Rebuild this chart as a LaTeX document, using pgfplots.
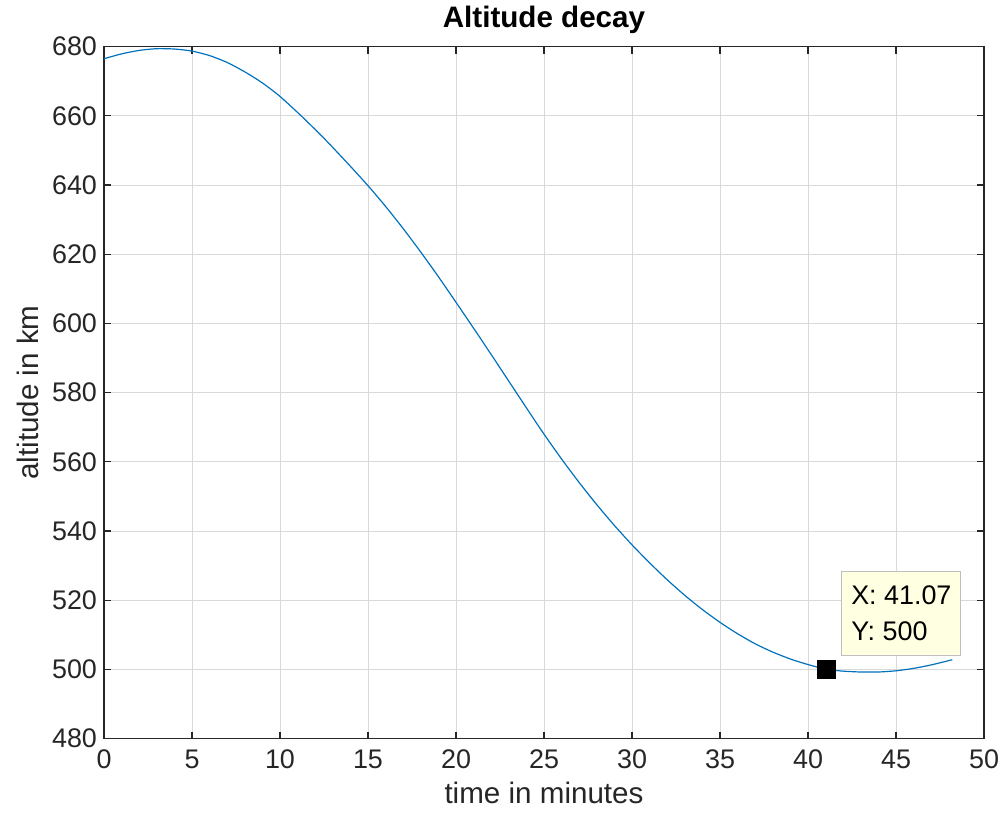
\documentclass[border=0pt]{standalone}
\usepackage{fontspec}
\setmainfont{Liberation Sans}
\usepackage{pgfplots}
\pgfplotsset{compat=1.18}
\definecolor{mlblue}{RGB}{0,114,189}
\definecolor{axgray}{RGB}{38,38,38}
\definecolor{tipfill}{RGB}{255,255,225}

\begin{document}
\begin{tikzpicture}
\begin{axis}[
  scale only axis, width=440bp, height=346bp,
  xmin=0, xmax=50, ymin=480, ymax=680,
  xtick={0,5,...,50}, ytick={480,500,...,680},
  tick align=inside, major tick length=3.5bp,
  axis line style={axgray, line width=0.6pt},
  tick style={axgray, line width=0.6pt},
  grid=major, grid style={black!15, line width=0.5pt},
  ticklabel style={font=\fontsize{13.5}{16}\selectfont, text=axgray},
  /pgf/number format/assume math mode=true,
  /pgf/number format/1000 sep={},
  xticklabel style={yshift=-2bp},
  xlabel={time in minutes}, ylabel={altitude in km},
  label style={font=\fontsize{14.85}{17}\selectfont, text=axgray},
  title={\textbf{Altitude decay}},
  title style={font=\fontsize{14.85}{17}\selectfont, yshift=-3bp},
  clip=false,
]
% altitude vs time
\addplot[mlblue, line width=0.6pt, smooth, tension=0.4] coordinates {
(0,676.5) (1,677.9) (2,678.9) (3,679.4) (4,679.3) (5,678.7) (6,677.4) (7,675.4) (8,672.7) (9,669.5)
(10,665.6) (11.2,660) (12.5,653.5) (13.8,646.5) (15,639.8) (16,633.8) (17,627.4) (18,620.6) (19,613.5)
(20,606.1) (21,598.6) (22,591.0) (23,583.3) (24,575.6) (25,568.0) (26,560.8) (27,554.0) (28,547.6)
(29,541.6) (30,536.0) (31,530.8) (32,525.9) (33,521.4) (34,517.3) (35,513.6) (36,510.3) (37,507.4)
(38,505.0) (39,503.0) (40,501.4) (41.07,500) (42,499.5) (43,499.25) (44,499.25) (45,499.6) (46,500.3)
(47,501.3) (48.2,502.8)
};
\addplot[only marks, mark=square*, mark size=4.5bp, black] coordinates {(41.07,500)};
\node[anchor=south west, draw=black!25, fill=tipfill, line width=0.4pt,
  minimum width=59.5bp, minimum height=42bp, align=left, inner sep=3.5bp,
  font=\fontsize{13.5}{18}\selectfont] at (axis cs:41.9,504)
  {X: 41.07\\Y: 500};
\end{axis}
\pgfresetboundingbox
\path ([xshift=-52bp,yshift=-42bp]current axis.south west) rectangle ([xshift=9.5bp,yshift=23.3bp]current axis.north east);
\end{tikzpicture}
\end{document}
